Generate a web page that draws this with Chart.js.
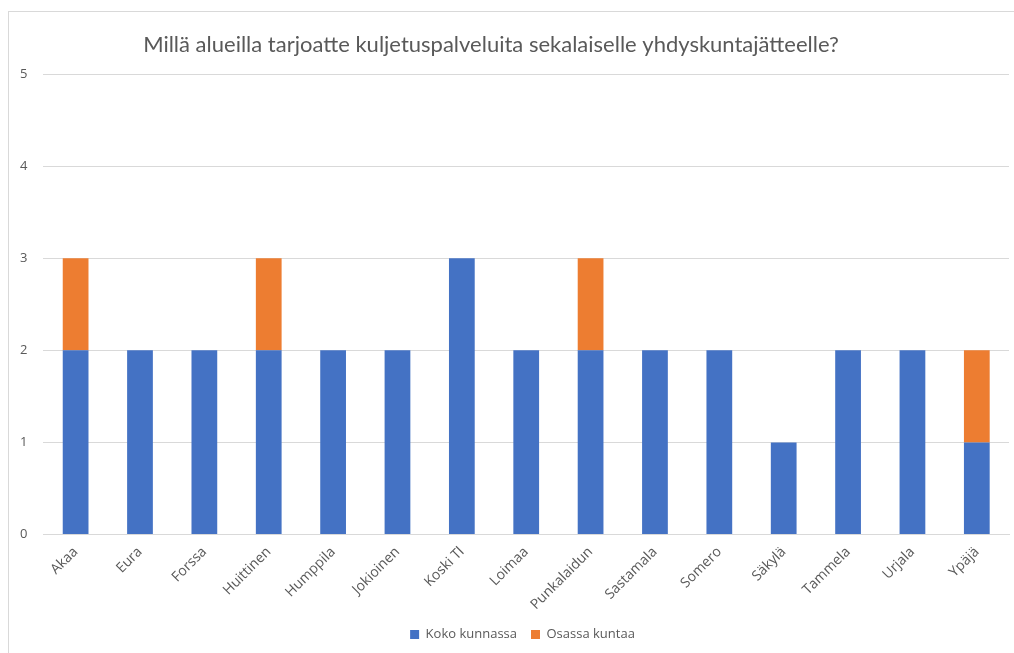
<!DOCTYPE html>
<html>
<head>
<meta charset="utf-8">
<script src="https://cdn.jsdelivr.net/npm/chart.js@4"></script>
<style>
html,body{margin:0;padding:0;background:#fff;}
#wrap{position:relative;width:1014px;height:653px;overflow:hidden;}
#frame{position:absolute;left:8px;top:11px;width:1100px;height:800px;border:1px solid #d9d9d9;box-sizing:border-box;}
canvas{position:absolute;left:0;top:0;}
</style>
</head>
<body>
<div id="wrap">
<div id="frame"></div>
<canvas id="c" width="1014" height="653"></canvas>
</div>
<script>
const titleText = "Millä alueilla tarjoatte kuljetuspalveluita sekalaiselle yhdyskuntajätteelle?";
const categories = ["Akaa","Eura","Forssa","Huittinen","Humppila","Jokioinen","Koski Tl","Loimaa","Punkalaidun","Sastamala","Somero","Säkylä","Tammela","Urjala","Ypäjä"];
const seriesNames = ["Koko kunnassa","Osassa kuntaa"];
const kokoKunnassa = [2,2,2,2,2,2,3,2,2,2,2,1,2,2,1];
const osassaKuntaa = [1,0,0,1,0,0,0,0,1,0,0,0,0,0,1];
const yTicks = [0,1,2,3,4,5];

const titlePlugin = {
  id:'customTitle',
  afterLayout(chart){
    if (chart.legend) { chart.legend.left += 16; chart.legend.right += 16; }
  },
  afterDraw(chart){
    const ctx = chart.ctx;
    ctx.save();
    ctx.font = '22px Lato, "Open Sans", sans-serif';
    ctx.fillStyle = '#595959';
    ctx.textAlign = 'center';
    ctx.textBaseline = 'middle';
    ctx.fillText(titleText, 491, 45);
    ctx.restore();
  }
};

const tickFont = {family:'"Open Sans", sans-serif',size:13};
const xFont = {family:'"Open Sans", sans-serif',size:14};

new Chart(document.getElementById('c'), {
  type:'bar',
  data:{
    labels:categories,
    datasets:[
      {label:seriesNames[0], data:kokoKunnassa, backgroundColor:'#4472C4', borderWidth:0},
      {label:seriesNames[1], data:osassaKuntaa, backgroundColor:'#ED7D31', borderWidth:0}
    ]
  },
  options:{
    responsive:false,
    animation:false,
    layout:{padding:{left:4,right:5,top:74,bottom:2}},
    datasets:{bar:{categoryPercentage:1.0, barPercentage:0.4}},
    plugins:{
      title:{display:false},
      tooltip:{enabled:false},
      legend:{
        position:'bottom',
        labels:{boxWidth:9,boxHeight:9,color:'#595959',font:tickFont,padding:14}
      }
    },
    scales:{
      x:{
        stacked:true,
        grid:{display:false},
        border:{color:'#d9d9d9'},
        ticks:{color:'#595959',font:xFont,maxRotation:45,minRotation:45,autoSkip:false,padding:1}
      },
      y:{
        stacked:true,
        min:0,max:5,
        afterBuildTicks(axis){axis.ticks = yTicks.map(v=>({value:v}));},
        grid:{color:'#d9d9d9',drawTicks:false},
        border:{display:false},
        ticks:{color:'#595959',font:tickFont,padding:16,stepSize:1}
      }
    }
  },
  plugins:[titlePlugin]
});
</script>
</body>
</html>
